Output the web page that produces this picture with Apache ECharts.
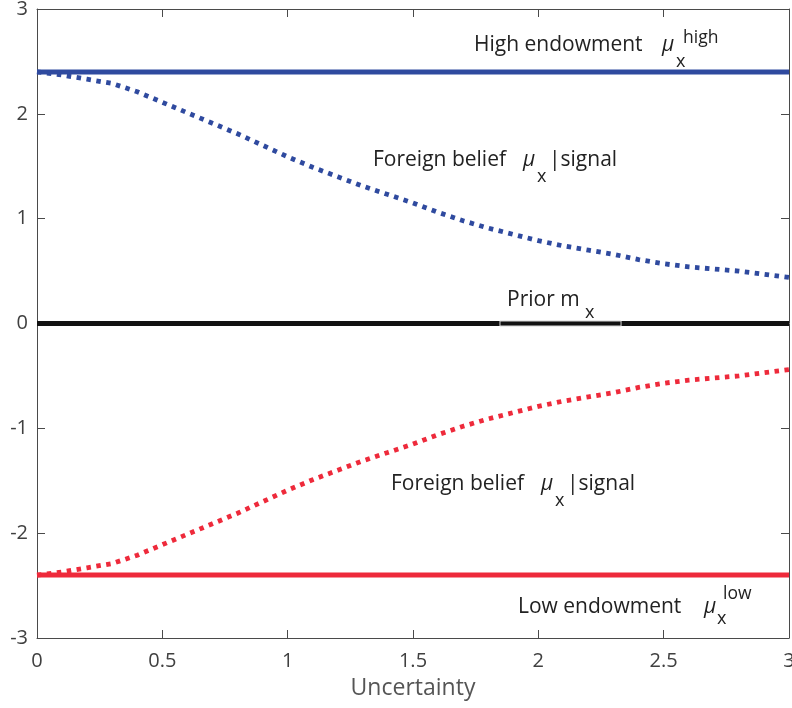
<!DOCTYPE html>
<html><head><meta charset="utf-8">
<script src="https://cdn.jsdelivr.net/npm/echarts@6/dist/echarts.min.js"></script>
<style>html,body{margin:0;padding:0;background:#fff}#c{width:792px;height:708px}</style>
</head><body><div id="c"></div>
<script>
// ---- data ----
const uncertainty = [0,0.1,0.2,0.3,0.4,0.5,0.6,0.7,0.8,0.9,1.0,1.1,1.2,1.3,1.4,1.5,1.6,1.7,1.8,1.9,2.0,2.1,2.2,2.3,2.4,2.5,2.6,2.7,2.8,2.9,3.0];
const beliefHigh = [2.40,2.37,2.33,2.29,2.21,2.11,2.01,1.91,1.81,1.70,1.59,1.49,1.40,1.31,1.23,1.15,1.06,0.98,0.91,0.85,0.79,0.74,0.70,0.66,0.61,0.57,0.54,0.52,0.50,0.47,0.44];
const beliefLow = [-2.40,-2.37,-2.33,-2.29,-2.21,-2.11,-2.01,-1.91,-1.81,-1.70,-1.59,-1.49,-1.40,-1.31,-1.23,-1.15,-1.06,-0.98,-0.91,-0.85,-0.79,-0.74,-0.70,-0.66,-0.61,-0.57,-0.54,-0.52,-0.50,-0.47,-0.44];
const xRange = [0, 3];
const highEndowment = [2.4, 2.4];
const lowEndowment = [-2.4, -2.4];
const priorMean = [0, 0];
const priorBoxX = [1.847, 2.33];

const BLUE = '#2f4a9f', RED = '#ee2a3b', BLACK = '#121212';
const FONT = 'Open Sans';
const chart = echarts.init(document.getElementById('c'), null, {renderer:'canvas'});

function pairs(xs, ys){ return xs.map((x,i)=>[x, ys[i]]); }

const axisLineStyle = {color:'#4a4a4a', width:1};
const xBase = {type:'value', min:0, max:3, interval:0.5,
  axisLine:{show:true, onZero:false, lineStyle:axisLineStyle},
  axisTick:{show:true, inside:true, length:8, lineStyle:axisLineStyle},
  splitLine:{show:false}};
const yBase = {type:'value', min:-3, max:3, interval:1,
  axisLine:{show:true, onZero:false, lineStyle:axisLineStyle},
  axisTick:{show:true, inside:true, length:8, lineStyle:axisLineStyle},
  splitLine:{show:false}};

const option = {
  animation:false,
  backgroundColor:'#fff',
  grid:{left:37, right:3, top:9, bottom:70, containLabel:false, outerBoundsMode:'none'},
  xAxis:[
    Object.assign({}, xBase, {position:'bottom',
      name:'Uncertainty', nameLocation:'middle', nameGap:39,
      nameTextStyle:{fontFamily:FONT, fontSize:23, color:'#555555'},
      axisLabel:{show:true, margin:13, fontFamily:FONT, fontSize:20, color:'#404040'}}),
    Object.assign({}, xBase, {position:'top', axisLabel:{show:false}})
  ],
  yAxis:[
    Object.assign({}, yBase, {position:'left',
      axisLabel:{show:true, margin:9, fontFamily:FONT, fontSize:20, color:'#404040'}}),
    Object.assign({}, yBase, {position:'right', axisLabel:{show:false}})
  ],
  series:[
    {type:'line', data:pairs(xRange, priorMean), showSymbol:false, lineStyle:{color:BLACK, width:5}, z:2},
    {type:'line', data:pairs(xRange, highEndowment), showSymbol:false, lineStyle:{color:BLUE, width:5}, z:2},
    {type:'line', data:pairs(xRange, lowEndowment), showSymbol:false, lineStyle:{color:RED, width:5}, z:2},
    {type:'line', data:pairs(uncertainty, beliefHigh), showSymbol:false, smooth:false,
      lineStyle:{color:BLUE, width:4.8, type:[4.5,5.5], cap:'butt'}, z:3},
    {type:'line', data:pairs(uncertainty, beliefLow), showSymbol:false, smooth:false,
      lineStyle:{color:RED, width:4.8, type:[4.5,5.5], cap:'butt'}, z:3}
  ]
};
chart.setOption(option);

// ---- annotations ----
function txt(x, y, text, size, italic){
  return {type:'text', x:x, y:y, z:100, silent:true,
    style:{text:text, fill:'#222222', font:(italic?'italic ':'')+size+'px "'+FONT+'"', verticalAlign:'middle', align:'left'}};
}
const g = [];
// High endowment
g.push(txt(474, 45, 'High endowment', 21));
g.push(txt(662, 45, 'μ', 21, true));
g.push(txt(676, 62, 'x', 18));
g.push(txt(683, 38, 'high', 17.5));
// Foreign belief (upper)
g.push(txt(373, 160, 'Foreign belief', 21));
g.push(txt(523, 160, 'μ', 21, true));
g.push(txt(537, 177, 'x', 18));
g.push(txt(549, 160, '|signal', 21));
// Prior
g.push(txt(507, 300.5, 'Prior m', 21));
g.push(txt(585, 313, 'x', 18));
// Foreign belief (lower)
g.push(txt(391, 484, 'Foreign belief', 21));
g.push(txt(541, 484, 'μ', 21, true));
g.push(txt(555, 501, 'x', 18));
g.push(txt(567, 484, '|signal', 21));
// Low endowment
g.push(txt(518, 607, 'Low endowment', 21));
g.push(txt(704, 607, 'μ', 21, true));
g.push(txt(717, 619, 'x', 18));
g.push(txt(723, 594, 'low', 17.5));
// thin outline on prior line (text box edge)
const p0 = chart.convertToPixel({gridIndex:0}, [priorBoxX[0], priorMean[0]]);
const p1 = chart.convertToPixel({gridIndex:0}, [priorBoxX[1], priorMean[0]]);
g.push({type:'rect', z:90, silent:true,
  shape:{x:p0[0], y:p0[1]-2.5, width:p1[0]-p0[0], height:5},
  style:{fill:'none', stroke:'#d6d6d6', lineWidth:1}});
chart.setOption({graphic:{elements:g}});
</script>
</body></html>
